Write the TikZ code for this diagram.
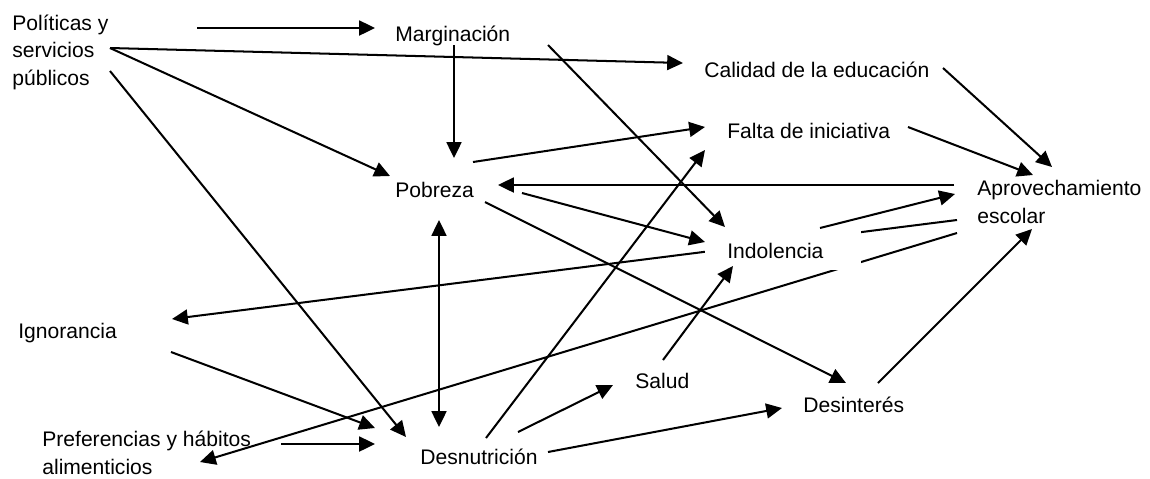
\documentclass[tikz,border=0pt]{standalone}
\usepackage{fontspec}
\setmainfont{Liberation Sans}
\usetikzlibrary{arrows.meta}

\begin{document}
\begin{tikzpicture}[x=0.02cm, y=-0.02cm,
    >={Triangle[length=9pt, width=8.5pt]},
    lbl/.style={anchor=base west, inner sep=0pt, align=left,
      font=\fontsize{12}{15.6}\selectfont},
    arr/.style={line width=1.15pt, ->}]
  \useasboundingbox (0,0) rectangle (1150,478);

  % multi-line labels sit on their last line
  \node[lbl] (pol)    at (12,85)   {Políticas y\\servicios\\públicos};
  \node[lbl] (marg)   at (395,41)  {Marginación};
  \node[lbl] (cal)    at (704,77)  {Calidad de la educación};
  \node[lbl] (falta)  at (727,138) {Falta de iniciativa};
  \node[lbl] (pob)    at (395,197) {Pobreza};
  \node[lbl] (aprov)  at (977,223) {Aprovechamiento\\escolar};
  \node[lbl] (ign)    at (18,338)  {Ignorancia};
  \node[lbl] (pref)   at (42,474)  {Preferencias y hábitos\\alimenticios};
  \node[lbl] (desn)   at (420,464) {Desnutrición};
  \node[lbl] (salud)  at (635,388) {Salud};
  \node[lbl] (desint) at (803,412) {Desinterés};

  % these two pass behind the Indolencia box
  \draw[arr] ([shift={(-20,-3)}]aprov.base west) -- ([shift={(154,-19)}]ign.base west);
  \draw[arr] ([shift={(-20,10)}]aprov.base west) -- ([shift={(158,-12)}]pref.base west);

  \node[lbl, fill=white, text width=2.24cm, inner xsep=0.44cm,
    text height=0.58cm, text depth=0.24cm] (indol) at (705,258) {Indolencia};

  \draw[arr] ([shift={(185,-57)}]pol.base west) -- ([shift={(-20,-13)}]marg.base west);
  \draw[arr] ([shift={(98,-37)}]pol.base west) -- ([shift={(-21,-14)}]cal.base west);
  \draw[arr] ([shift={(98,-37)}]pol.base west) -- ([shift={(-5,-21)}]pob.base west);
  \draw[arr] ([shift={(98,-14)}]pol.base west) -- ([shift={(-14,-27)}]desn.base west);
  \draw[arr] ([shift={(59,4)}]marg.base west) -- ([shift={(59,-39)}]pob.base west);
  \draw[arr] ([shift={(153,4)}]marg.base west) -- ([shift={(20,-31)}]indol.base west);
  \draw[arr] ([shift={(78,-35)}]pob.base west) -- ([shift={(-22,-11)}]falta.base west);
  \draw[arr] ([shift={(-23,-38)}]aprov.base west) -- ([shift={(103,-12)}]pob.base west);
  \draw[arr] ([shift={(127,-4)}]pob.base west) -- ([shift={(0,-16)}]indol.base west);
  \draw[arr] ([shift={(90,5)}]pob.base west) -- ([shift={(43,-29)}]desint.base west);
  \draw[arr, <->] ([shift={(44,23)}]pob.base west) -- ([shift={(19,-37)}]desn.base west);
  \draw[arr] ([shift={(66,-26)}]desn.base west) -- ([shift={(-22,12)}]falta.base west);
  \draw[arr] ([shift={(98,-32)}]desn.base west) -- ([shift={(-22,-3)}]salud.base west);
  \draw[arr] ([shift={(128,-12)}]desn.base west) -- ([shift={(-21,-4)}]desint.base west);
  \draw[arr] ([shift={(28,-28)}]salud.base west) -- ([shift={(28,8)}]indol.base west);
  \draw[arr] ([shift={(239,-9)}]cal.base west) -- ([shift={(75,-56)}]aprov.base west);
  \draw[arr] ([shift={(181,-11)}]falta.base west) -- ([shift={(56,-48)}]aprov.base west);
  \draw[arr] ([shift={(115,-30)}]indol.base west) -- ([shift={(-22,-29)}]aprov.base west);
  \draw[arr] ([shift={(153,14)}]ign.base west) -- ([shift={(-45,-36)}]desn.base west);
  \draw[arr] ([shift={(239,-30)}]pref.base west) -- ([shift={(-45,-20)}]desn.base west);
  \draw[arr] ([shift={(75,-29)}]desint.base west) -- ([shift={(55,6)}]aprov.base west);
\end{tikzpicture}
\end{document}
